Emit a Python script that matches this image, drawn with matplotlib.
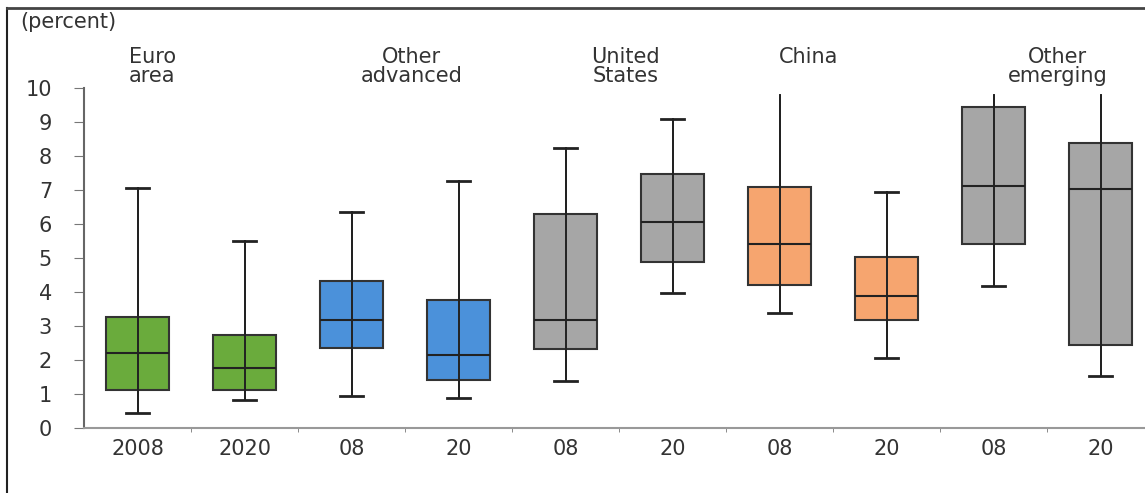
import matplotlib.pyplot as plt
from matplotlib.lines import Line2D

# box statistics per group (percent)
tick_labels = ["2008", "2020", "08", "20", "08", "20", "08", "20", "08", "20"]
low = [0.45, 0.82, 0.94, 0.88, 1.38, 3.97, 3.39, 2.07, 4.18, 1.53]
q1 = [1.13, 1.12, 2.36, 1.41, 2.32, 4.89, 4.20, 3.18, 5.41, 2.44]
med = [2.22, 1.77, 3.18, 2.15, 3.18, 6.07, 5.40, 3.89, 7.12, 7.03]
q3 = [3.27, 2.74, 4.33, 3.76, 6.29, 7.47, 7.10, 5.04, 9.44, 8.39]
high = [7.05, 5.50, 6.35, 7.25, 8.24, 9.10, 9.80, 6.93, 9.80, 9.80]
open_top = [False, False, False, False, False, False, True, False, True, True]
colors = ["#6aab3c", "#6aab3c", "#4b91da", "#4b91da", "#a6a6a6",
          "#a6a6a6", "#f6a56f", "#f6a56f", "#a6a6a6", "#a6a6a6"]

groups = ["Euro\narea", "Other\nadvanced", "United\nStates", "China", "Other\nemerging"]
group_x = [0.14, 2.56, 4.56, 6.27, 8.6]

txt = "#333333"
fs = 15

fig = plt.figure(figsize=(11.45, 4.93), dpi=100)
ax = fig.add_axes([84 / 1145, 65 / 493, 1070 / 1145, 340 / 493])

stats = [dict(whislo=l, q1=a, med=m, q3=b, whishi=h)
         for l, a, m, b, h in zip(low, q1, med, q3, high)]
pos = list(range(len(stats)))
bp = ax.bxp(stats, positions=pos, widths=0.58, capwidths=0.22, patch_artist=True,
            showfliers=False,
            boxprops=dict(edgecolor="#333333", linewidth=1.5),
            medianprops=dict(color="#222222", linewidth=1.5),
            whiskerprops=dict(color="#222222", linewidth=1.4),
            capprops=dict(color="#222222", linewidth=2))
for patch, c in zip(bp["boxes"], colors):
    patch.set_facecolor(c)
for i, o in enumerate(open_top):
    if o:
        bp["caps"][2 * i + 1].set_visible(False)

# whisker line runs straight through each box
ax.vlines(pos, low, high, color="#222222", linewidth=1.4, zorder=3)

ax.set_xlim(-0.5, 9.5)
ax.set_ylim(0, 10)
ax.set_yticks(range(0, 11))
ax.set_xticks(pos)
ax.set_xticklabels(tick_labels)
ax.set_xticks([p + 0.5 for p in pos[:-1]], minor=True)
ax.tick_params(axis="x", which="major", length=0, pad=8, labelsize=fs, labelcolor=txt)
ax.tick_params(axis="x", which="minor", length=3, color="#777777", direction="out")
ax.tick_params(axis="y", length=7, color="#777777", pad=16, labelsize=fs, labelcolor=txt)
for side in ["top", "right"]:
    ax.spines[side].set_visible(False)
ax.spines["left"].set_color("#666666")
ax.spines["left"].set_linewidth(1.5)
ax.spines["bottom"].set_color("#999999")
ax.spines["bottom"].set_linewidth(1.5)

for g, x in zip(groups, group_x):
    ax.text(x, 1.12, g, transform=ax.get_xaxis_transform(), ha="center", va="top",
            fontsize=fs, color=txt, linespacing=0.95)

fig.text(20 / 1145, 1 - 22 / 493, "(percent)", ha="left", va="center", fontsize=fs, color=txt)

# outer frame (left and top edges)
fig.add_artist(Line2D([7 / 1145, 7 / 1145], [0, 1 - 8 / 493], transform=fig.transFigure,
                      color="#222222", linewidth=1.5))
fig.add_artist(Line2D([7 / 1145, 1], [1 - 8 / 493, 1 - 8 / 493], transform=fig.transFigure,
                      color="#444444", linewidth=2))

fig.savefig("out.png", dpi=100)
